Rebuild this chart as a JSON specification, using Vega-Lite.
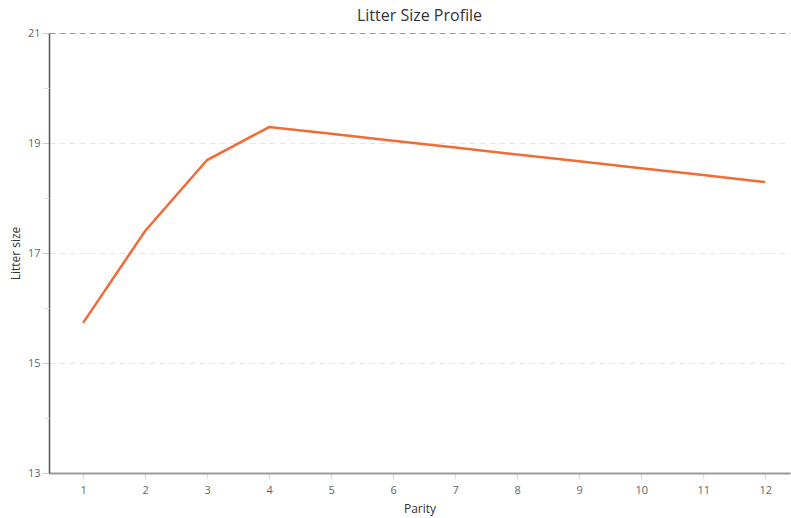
{
  "$schema": "https://vega.github.io/schema/vega-lite/v6.json",
  "width": 741,
  "height": 440,
  "autosize": {"type": "none"},
  "padding": {"left": 49, "top": 33, "right": 1, "bottom": 45},
  "background": "white",
  "title": {
    "text": "Litter Size Profile",
    "fontSize": 16,
    "font": "Open Sans",
    "fontWeight": "normal",
    "color": "#333333",
    "offset": 3
  },
  "config": {
    "view": {"stroke": null},
    "axis": {"labelFont": "Open Sans", "titleFont": "Open Sans"}
  },
  "data": {
    "values": [
      {"parity": 1, "litter": 15.73},
      {"parity": 2, "litter": 17.4},
      {"parity": 3, "litter": 18.69},
      {"parity": 4, "litter": 19.29},
      {"parity": 5, "litter": 19.17},
      {"parity": 6, "litter": 19.04},
      {"parity": 7, "litter": 18.92},
      {"parity": 8, "litter": 18.79},
      {"parity": 9, "litter": 18.67},
      {"parity": 10, "litter": 18.54},
      {"parity": 11, "litter": 18.42},
      {"parity": 12, "litter": 18.29}
    ]
  },
  "layer": [
    {
      "mark": {"type": "line", "color": "#F26A36", "strokeWidth": 2.5},
      "encoding": {
        "x": {
          "field": "parity",
          "type": "quantitative",
          "scale": {"domain": [0.45, 12.4], "nice": false, "zero": false},
          "axis": {
            "title": "Parity",
            "values": [1, 2, 3, 4, 5, 6, 7, 8, 9, 10, 11, 12],
            "format": "d",
            "grid": false,
            "domainColor": "#999999",
            "domainWidth": 2,
            "tickColor": "#e0e0e0",
            "tickSize": 6,
            "tickWidth": 1.5,
            "labelColor": "#666666",
            "labelFontSize": 11,
            "labelPadding": 5,
            "titleColor": "#333333",
            "titleFontSize": 12,
            "titleFontWeight": "normal",
            "titlePadding": 8
          }
        },
        "y": {
          "field": "litter",
          "type": "quantitative",
          "scale": {"domain": [13, 21], "nice": false, "zero": false},
          "axis": {
            "title": "Litter size",
            "values": [13, 15, 17, 19, 21],
            "grid": true,
            "gridDash": [6, 4],
            "gridColor": {"condition": {"test": "datum.value === 21", "value": "#999999"}, "value": "#e6e6e6"},
            "domainColor": "#555555",
            "domainWidth": 1.5,
            "tickColor": "#cccccc",
            "tickSize": 7,
            "labelColor": "#666666",
            "labelFontSize": 11,
            "labelPadding": 2,
            "titleColor": "#333333",
            "titleFontSize": 12,
            "titleFontWeight": "normal",
            "titlePadding": 5
          }
        }
      }
    },
    {
      "mark": {"type": "line", "opacity": 0},
      "encoding": {
        "x": {"field": "parity", "type": "quantitative"},
        "y": {
          "field": "litter",
          "type": "quantitative",
          "axis": {
            "orient": "left",
            "title": null,
            "values": [14, 16, 18, 20],
            "labels": false,
            "domain": false,
            "grid": false,
            "tickColor": "#dddddd",
            "tickSize": 5
          }
        }
      }
    }
  ],
  "resolve": {"axis": {"y": "independent"}}
}
